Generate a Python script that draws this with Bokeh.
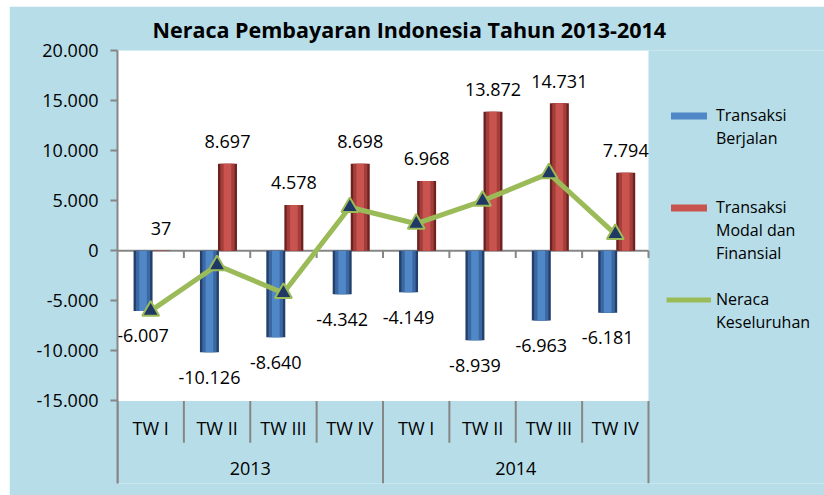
import numpy as np
from bokeh.plotting import figure
from bokeh.models import (Range1d, FixedTicker, CustomJSTickFormatter, BoxAnnotation,
                          Legend, LegendItem, Label)
from bokeh.core.properties import value
from bokeh.embed import file_html
from bokeh.resources import INLINE

# ---- data ----
years = ["2013", "2014"]
quarters = ["TW I", "TW II", "TW III", "TW IV"]
transaksi_berjalan = [-6007, -10126, -8640, -4342, -4149, -8939, -6963, -6181]
transaksi_modal = [37, 8697, 4578, 8698, 6968, 13872, 14731, 7794]
neraca_keseluruhan = [-6000, -1450, -4220, 4350, 2700, 4990, 7730, 1670]
y_ticks = [-15000, -10000, -5000, 0, 5000, 10000, 15000, 20000]
series_names = [["Transaksi", "Berjalan"], ["Transaksi", "Modal dan", "Finansial"],
                ["Neraca", "Keseluruhan"]]
title_text = "Neraca Pembayaran Indonesia Tahun 2013-2014"
y_title = "Juta USD"

# ---- layout helpers (pixel geometry) ----
OFF_X, OFF_Y = 9, 6                 # figure position on page (image px)
W, H = 824 - OFF_X, 495 - OFF_Y
FRAME_LEFT, FRAME_TOP, FRAME_BOTTOM = 117 - OFF_X, 48 - OFF_Y, 483 - OFF_Y
PX_PER_UNIT = 50.3 / 5000.0
Y_TOP = 20000
Y_BOTTOM = Y_TOP - (FRAME_BOTTOM - FRAME_TOP) / PX_PER_UNIT
CAT_PX = 531 / 8.0
X_END = (W - FRAME_LEFT) / CAT_PX

def py(pix_img):
    """data y for an image pixel row"""
    return Y_TOP - ((pix_img - OFF_Y) - FRAME_TOP) / PX_PER_UNIT

def fmt(v):
    s = f"{abs(v):,}".replace(",", ".")
    return ("-" if v < 0 else "") + s

BG = "#B7DDE8"
AX = "#868686"
FONT = "Open Sans"

p = figure(width=W, height=H, output_backend="svg", toolbar_location=None,
           margin=(OFF_Y, 0, 0, OFF_X),
           x_range=Range1d(0, X_END), y_range=Range1d(Y_BOTTOM, Y_TOP),
           min_border_left=FRAME_LEFT, min_border_right=0, min_border_top=FRAME_TOP,
           min_border_bottom=H - FRAME_BOTTOM,
           background_fill_color=BG, border_fill_color=BG, outline_line_color=None)
p.xaxis.visible = False
p.xgrid.visible = False
p.ygrid.visible = False

# title
p.title.text = title_text
p.title.text_font = FONT
p.title.text_font_size = "21.5px"
p.title.text_font_style = "bold"
p.title.text_color = "black"
p.title.align = "left"
p.title.offset = 35
p.title.standoff = 13

# white plot area
p.add_layout(BoxAnnotation(left=0, right=8, bottom=y_ticks[0], top=y_ticks[-1],
                           fill_color="white", fill_alpha=1, line_color=None, level="underlay"))

# y axis
ya = p.yaxis[0]
ya.ticker = FixedTicker(ticks=y_ticks)
ya.formatter = CustomJSTickFormatter(code=r"""
const a = Math.abs(tick).toFixed(0).replace(/\B(?=(\d{3})+(?!\d))/g, '.');
return (tick < 0 ? '-' : '') + a;
""")
ya.axis_line_color = AX
ya.axis_line_width = 2
ya.major_tick_line_color = AX
ya.major_tick_line_width = 2
ya.major_tick_out = 7
ya.major_tick_in = 0
ya.minor_tick_line_color = None
ya.major_label_standoff = 12
ya.major_label_text_font = FONT
ya.major_label_text_font_size = "18px"
ya.major_label_text_color = "black"

p.add_layout(Label(x=0, y=py(224), x_offset=-90, text=y_title, angle=np.pi / 2,
                   text_align="center", text_baseline="middle", text_font=FONT,
                   text_font_size="16px", text_font_style="bold", text_color="black"))

# category positions
n = len(years) * len(quarters)
xc = np.arange(n) + 0.5
bw = 0.286
blue_x = xc - 0.115
red_x = xc + 0.157

# zero line and its ticks
p.segment(x0=[0], y0=[0], x1=[n], y1=[0], line_color=AX, line_width=2)
bx = np.arange(1, n + 1)
p.segment(x0=bx, y0=np.zeros(n), x1=bx, y1=np.full(n, py(256.5)), line_color=AX, line_width=2)

# category separators
inner = [i for i in range(1, n) if i % len(quarters) != 0]
outer = [i for i in range(0, n + 1) if i % len(quarters) == 0]
p.segment(x0=inner, y0=[y_ticks[0]] * len(inner), x1=inner, y1=[py(442)] * len(inner),
          line_color=AX, line_width=2)
p.segment(x0=outer, y0=[y_ticks[0]] * len(outer), x1=outer, y1=[Y_BOTTOM] * len(outer),
          line_color=AX, line_width=2)

# category labels
p.text(x=xc, y=[py(427)] * n, text=quarters * len(years), text_align="center",
       text_baseline="middle", text_font=value(FONT), text_font_size="18px", text_color="black")
yx = np.arange(len(years)) * len(quarters) + len(quarters) / 2
p.text(x=yx, y=[py(468)] * len(years), text=years, text_align="center",
       text_baseline="middle", text_font=value(FONT), text_font_size="18px", text_color="black")

# bars (shaded to mimic bevel)
p.vbar(x=blue_x, bottom=0, top=transaksi_berjalan, width=bw, fill_color="#23406A", line_color=None)
p.vbar(x=blue_x, bottom=0, top=transaksi_berjalan, width=bw * 0.75, fill_color="#3B68A3", line_color=None)
rb = p.vbar(x=blue_x, bottom=0, top=transaksi_berjalan, width=bw * 0.4, fill_color="#5087C6",
            line_color=None)
p.vbar(x=red_x, bottom=0, top=transaksi_modal, width=bw, fill_color="#6E2220", line_color=None)
p.vbar(x=red_x, bottom=0, top=transaksi_modal, width=bw * 0.75, fill_color="#A33E3B", line_color=None)
rr = p.vbar(x=red_x, bottom=0, top=transaksi_modal, width=bw * 0.4, fill_color="#C9534F",
            line_color=None)

# bar labels
p.text(x=red_x, y=transaksi_modal, text=[fmt(v) for v in transaksi_modal], y_offset=-22,
       text_align="center", text_baseline="middle", text_font=value(FONT),
       text_font_size="18px", text_color="black")
p.text(x=blue_x, y=transaksi_berjalan, text=[fmt(v) for v in transaksi_berjalan], y_offset=25,
       text_align="center", text_baseline="middle", text_font=value(FONT),
       text_font_size="18px", text_color="black")

# line
rl = p.line(x=xc, y=neraca_keseluruhan, line_color="#9BBB59", line_width=5)
rs = p.scatter(x=xc, y=neraca_keseluruhan, marker="triangle", size=17, fill_color="#1F3864",
               line_color="#9BBB59", line_width=2)

# legend: one row per text line, first row of each series carries the swatch
blank = p.scatter(x=[], y=[], fill_alpha=0, line_alpha=0)
mini = p.scatter(x=[], y=[], marker="triangle", size=7, fill_color="#1F3864", line_color="#1F3864")
swatches = [[rb], [rr], [rl, mini]]
gaps = [2, 1, 0]
items = []
for lines, sw, gap in zip(series_names, swatches, gaps):
    for k, txt in enumerate(lines):
        items.append(LegendItem(label=txt, renderers=sw if k == 0 else [blank]))
    for _ in range(gap):
        items.append(LegendItem(label=" ", renderers=[blank]))
row_h = 23
legend = Legend(items=items, location=(666 - 117, 483 - (115 - row_h / 2 + row_h * len(items))),
                background_fill_alpha=0, border_line_color=None,
                label_text_font=FONT, label_text_font_size="16px", label_text_color="black",
                glyph_width=45, glyph_height=9, label_height=row_h, label_standoff=5,
                spacing=0, padding=0, margin=0)
p.add_layout(legend)

open("out.html", "w").write(file_html(p, INLINE))
